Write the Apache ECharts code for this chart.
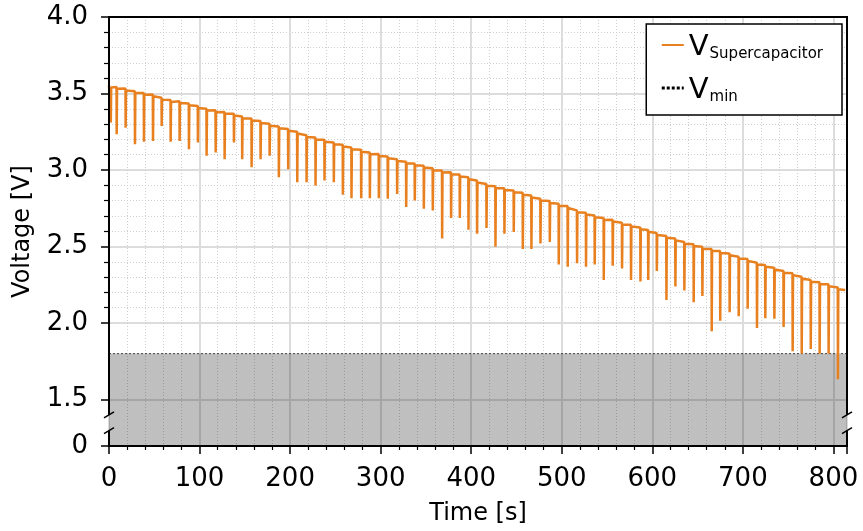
<!DOCTYPE html>
<html><head><meta charset="utf-8">
<script src="https://cdn.jsdelivr.net/npm/echarts@6.0.0/dist/echarts.min.js"></script>
<style>html,body{margin:0;padding:0;background:#fff}#c{width:863px;height:531px}</style>
</head><body><div id="c"></div>
<script>
// ---- data ----
const pulseTime = [2, 8.5, 18.4, 28.7, 38.6, 48.6, 58.2, 68.1, 78, 88.3, 98.2, 107.8, 117.8, 127.7, 138, 147.1, 157.5, 167.4, 177.4, 187.6,
  197.9, 207.9, 218.2, 228.1, 238, 248.3, 258.3, 267.8, 278.5, 288.1, 298, 307.9, 318.2, 328.2, 337.7, 347.7, 357.6, 367.9, 377.8, 387.4,
  397, 406.5, 416.9, 426.8, 436.7, 447, 457, 466.5, 476.5, 486.8, 496.7, 506.6, 516.9, 526.8, 536.4, 546.4, 556.3, 566.6, 576.5, 586.9,
  595.5, 605, 615.6, 625.5, 635.4, 645.7, 655.3, 665.6, 675, 685.4, 695.4, 705.3, 715.6, 724.8, 734.8, 745, 755, 765, 775, 784.8, 794.7, 805];
const topLevel = [3.552, 3.543, 3.532, 3.515, 3.504, 3.494, 3.472, 3.457, 3.450, 3.435, 3.418, 3.401, 3.390, 3.379, 3.368, 3.349, 3.336, 3.320, 3.302, 3.285,
  3.268, 3.250, 3.227, 3.212, 3.197, 3.180, 3.165, 3.147, 3.132, 3.115, 3.104, 3.089, 3.071, 3.054, 3.043, 3.028, 3.011, 2.996, 2.985, 2.970,
  2.952, 2.931, 2.909, 2.894, 2.881, 2.866, 2.851, 2.833, 2.812, 2.797, 2.779, 2.764, 2.736, 2.721, 2.703, 2.686, 2.675, 2.656, 2.643, 2.625,
  2.608, 2.588, 2.569, 2.552, 2.530, 2.515, 2.498, 2.483, 2.470, 2.455, 2.433, 2.418, 2.394, 2.379, 2.362, 2.340, 2.325, 2.303, 2.281, 2.266, 2.253, 2.232];
const dipLevel = [3.310, 3.234, 3.277, 3.169, 3.184, 3.190, 3.288, 3.184, 3.190, 3.136, 3.180, 3.093, 3.115, 3.071, 3.180, 3.071, 3.018, 3.071, 3.093, 2.953,
  3.005, 2.920, 2.920, 2.898, 2.931, 2.920, 2.838, 2.816, 2.816, 2.816, 2.816, 2.812, 2.844, 2.758, 2.801, 2.747, 2.736, 2.552, 2.686, 2.686,
  2.609, 2.584, 2.621, 2.498, 2.584, 2.595, 2.483, 2.483, 2.519, 2.530, 2.383, 2.368, 2.390, 2.368, 2.383, 2.281, 2.375, 2.357, 2.281, 2.271,
  2.281, 2.340, 2.151, 2.238, 2.212, 2.136, 2.177, 1.946, 2.015, 2.070, 2.044, 2.093, 1.968, 2.032, 2.028, 1.974, 1.816, 1.800, 1.830, 1.800, 1.800, 1.632];
const traceStart = [0, 3.556];
const traceEnd = [813, 2.216];
const vMin = 1.8;
const xRange = [0, 815];
const yRange = [0, 4];
const yTickValues = [0, 1.5, 2.0, 2.5, 3.0, 3.5, 4.0];
const yBreak = { start: 0.1, end: 1.4 };
const seriesNames = ['V_Supercapacitor', 'V_min'];

// ---- build the trace from the read values ----
const vData = [traceStart];
for (let i = 0; i < pulseTime.length; i++) {
  const t = pulseTime[i], top = topLevel[i];
  vData.push([t - 0.2, top], [t, dipLevel[i]], [t + 0.4, top - 0.012], [t + 1.5, top - 0.004]);
}
vData.push(traceEnd);
const vMinData = [[xRange[0], vMin], [xRange[1], vMin]];

const FONT = 'DejaVu Sans';
const ORANGE = '#e8801f';
const chart = echarts.init(document.getElementById('c'), null, { renderer: 'canvas' });
const gridDot = { color: '#cfcfcf', type: [1, 2], width: 1 };
const gridMajor = { color: '#dcdcdc', width: 2 };

chart.setOption({
  animation: false,
  backgroundColor: '#fff',
  textStyle: { fontFamily: FONT },
  grid: { left: 109, right: 16, top: 17, bottom: 83, containLabel: false },
  legend: {
    orient: 'vertical', right: 21, top: 24,
    backgroundColor: '#fff', borderColor: '#000', borderWidth: 1.5, borderRadius: 0,
    padding: [9, 19, 10, 14], itemGap: 14, itemWidth: 22, itemHeight: 12,
    data: [
      { name: seriesNames[0], itemStyle: { opacity: 0 }, lineStyle: { width: 2, color: ORANGE } },
      { name: seriesNames[1], itemStyle: { opacity: 0 }, lineStyle: { width: 3, color: '#000', type: [3, 2] } }
    ],
    formatter: n => { const p = n.split('_'); return '{v|' + p[0] + '}{s|' + p[1] + '}'; },
    textStyle: {
      rich: {
        v: { fontFamily: FONT, fontSize: 29, color: '#000', lineHeight: 34, verticalAlign: 'bottom' },
        s: { fontFamily: FONT, fontSize: 15, color: '#000', lineHeight: 15, verticalAlign: 'bottom', padding: [0, 0, 0, 1] }
      }
    }
  },
  xAxis: [{
    type: 'value', min: xRange[0], max: xRange[1], interval: 100,
    name: 'Time [s]', nameLocation: 'middle', nameGap: 56,
    nameTextStyle: { fontFamily: FONT, fontSize: 24, color: '#000' },
    axisLine: { show: true, onZero: false, lineStyle: { color: '#000', width: 2 } },
    axisTick: { show: true, length: 8, lineStyle: { color: '#000', width: 1.5 } },
    minorTick: { show: true, splitNumber: 5, length: 4, lineStyle: { color: '#000', width: 1.2 } },
    splitLine: { show: true, lineStyle: gridMajor },
    minorSplitLine: { show: true, lineStyle: gridDot },
    axisLabel: { fontFamily: FONT, fontSize: 26, color: '#000', margin: 20, showMaxLabel: false }
  }, {
    type: 'value', position: 'top', min: xRange[0], max: xRange[1], interval: 100,
    axisLine: { show: true, onZero: false, lineStyle: { color: '#000', width: 2 } },
    axisTick: { show: false }, axisLabel: { show: false }, splitLine: { show: false }
  }],
  yAxis: [{
    type: 'value', min: yRange[0], max: yRange[1], interval: 0.5,
    breaks: [{ start: yBreak.start, end: yBreak.end, gap: '3.7%' }],
    breakArea: {
      show: true, expandOnClick: false, zigzagAmplitude: 0,
      itemStyle: { color: 'rgba(0,0,0,0)', borderColor: 'rgba(0,0,0,0)', borderWidth: 0, opacity: 0 }
    },
    breakLabelLayout: { moveOverlap: false },
    name: 'Voltage [V]', nameLocation: 'middle', nameGap: 74,
    nameTextStyle: { fontFamily: FONT, fontSize: 24, color: '#000' },
    axisLine: { show: false },
    axisTick: { show: true, length: 8, customValues: yTickValues, lineStyle: { color: '#000', width: 1.5 } },
    minorTick: { show: true, splitNumber: 5, length: 5, lineStyle: { color: '#000', width: 1.2 } },
    splitLine: { show: true, lineStyle: gridMajor },
    minorSplitLine: { show: true, lineStyle: gridDot },
    axisLabel: {
      fontFamily: FONT, fontSize: 26, color: '#000', margin: 21, customValues: yTickValues,
      formatter: v => (Math.abs(v) < 1e-9 ? '0' : v.toFixed(1))
    }
  }],
  series: [{
    name: seriesNames[1], type: 'line', data: vMinData, symbol: 'none', z: 2,
    lineStyle: { color: '#444', width: 1, type: [2, 2] },
    areaStyle: { color: '#000', opacity: 0.25, origin: 'start' },
    silent: true
  }, {
    name: seriesNames[0], type: 'line', data: vData, symbol: 'none', z: 3,
    lineStyle: { color: ORANGE, width: 2.5 }, itemStyle: { color: ORANGE },
    sampling: null, silent: true
  }]
});

// spines with break marks, positioned through the axes
function px(v, axis) { return chart.convertToPixel(axis === 'x' ? { xAxisIndex: 0 } : { yAxisIndex: 0 }, v); }
const xl = px(xRange[0], 'x'), xr = px(xRange[1], 'x');
const yT = px(yRange[1], 'y'), yB = px(yRange[0], 'y');
const yb1 = px(yBreak.end, 'y'), yb0 = px(yBreak.start, 'y');
const els = [];
const st = { stroke: '#000', lineWidth: 2 };
[xl, xr].forEach(x => {
  els.push({ type: 'line', shape: { x1: x, y1: yT - 1, x2: x, y2: yb1 }, style: st, z: 100 });
  els.push({ type: 'line', shape: { x1: x, y1: yb0, x2: x, y2: yB + 1 }, style: st, z: 100 });
  [yb1, yb0].forEach(y => {
    els.push({ type: 'line', shape: { x1: x - 5, y1: y + 3, x2: x + 5, y2: y - 3 }, style: { stroke: '#000', lineWidth: 1.5 }, z: 100 });
  });
});
chart.setOption({ graphic: els });
</script>
</body></html>
